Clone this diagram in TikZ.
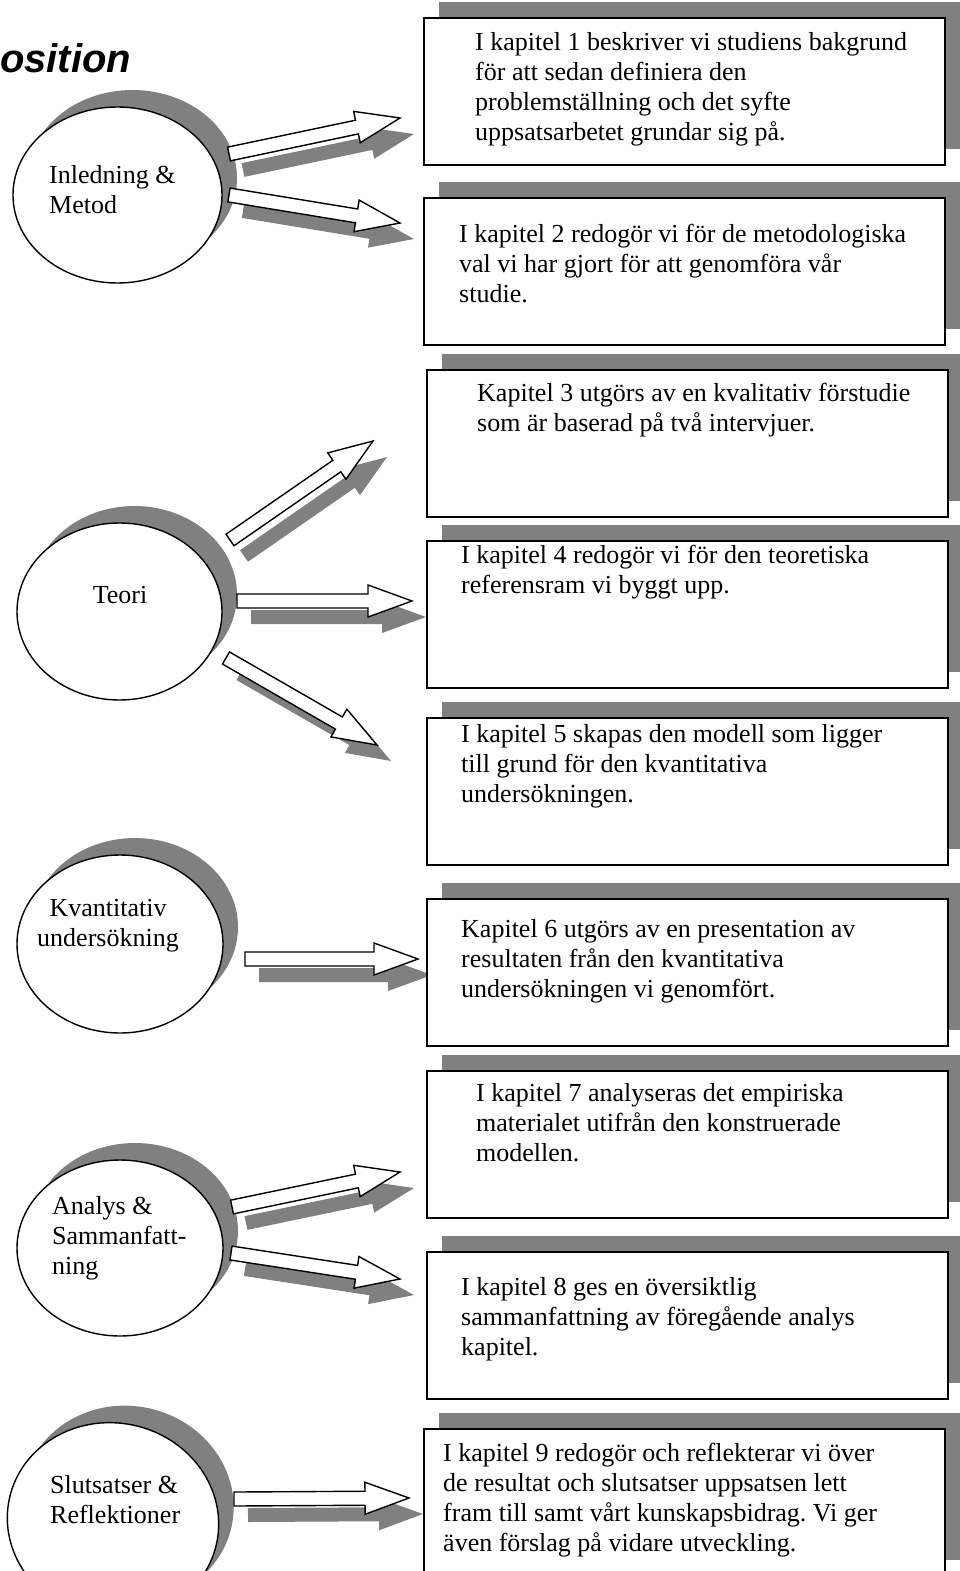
\documentclass[tikz,border=0pt]{standalone}
\usepackage{fontspec}
\setmainfont{Liberation Serif}
\newfontfamily\headfont{Liberation Sans}
\usetikzlibrary{calc,shapes.geometric,shadows}
\definecolor{shadowgray}{HTML}{808080}
\frenchspacing

% block arrow from a tail coordinate to a tip coordinate, with its shadow
\newcommand\blockarrow[2]{%
  \coordinate (#1-base) at ($(#2)!44pt!(#1)$);
  \path[arrowshade] ($(#1)!7pt!90:(#2)$) -- ($(#1-base)!7pt!90:(#2)$)
    -- ($(#1-base)!16pt!90:(#2)$) -- (#2) -- ($(#1-base)!16pt!-90:(#2)$)
    -- ($(#1-base)!7pt!-90:(#2)$) -- ($(#1)!7pt!-90:(#2)$) -- cycle;
  \path[arrowbody] ($(#1)!7pt!90:(#2)$) -- ($(#1-base)!7pt!90:(#2)$)
    -- ($(#1-base)!16pt!90:(#2)$) -- (#2) -- ($(#1-base)!16pt!-90:(#2)$)
    -- ($(#1-base)!7pt!-90:(#2)$) -- ($(#1)!7pt!-90:(#2)$) -- cycle;
}

\tikzset{
  bodyfont/.style={font=\fontsize{26}{30}\selectfont},
  chapbox/.style={rectangle, draw=black, line width=1.7pt, fill=white,
    inner sep=0pt, anchor=north west, minimum width=521pt, minimum height=147pt,
    drop shadow={shadow xshift=15pt, shadow yshift=16pt, fill=shadowgray, opacity=1}},
  part/.style={ellipse, draw=black, line width=1.4pt, fill=white, inner sep=0pt,
    drop shadow={shadow xshift=15pt, shadow yshift=17pt, fill=shadowgray, opacity=1}},
  chaptext/.style={bodyfont, anchor=north west, inner sep=0pt, align=left},
  parttext/.style={bodyfont, anchor=north west, inner sep=0pt, align=left},
  arrowshade/.style={fill=shadowgray, transform canvas={shift={(14pt,-16pt)}}},
  arrowbody/.style={fill=white, draw=black, line width=1.4pt, line join=miter},
}

\begin{document}
\begin{tikzpicture}[x=1pt, y=-1pt]
\useasboundingbox (0,0) rectangle (960,1571);
\clip (0,0) rectangle (960,1571);

% heading
\node[anchor=base west, inner sep=0pt,
  font=\headfont\bfseries\itshape\fontsize{40}{48}\selectfont] (title) at (0,72) {osition};

% parts of the thesis
\node[part, minimum width=209pt, minimum height=176pt] (e1) at (117.5,195) {};
\node[part, minimum width=205pt, minimum height=177pt] (e2) at (119.5,611.5) {};
\node[part, minimum width=206pt, minimum height=178pt] (e3) at (120,944) {};
\node[part, minimum width=206pt, minimum height=176pt] (e4) at (120,1248) {};
\node[part, minimum width=212pt, minimum height=196pt, rotate=-12] (e5) at (113,1521) {};

\node[parttext] (l1) at (49,162) {\strut Inledning \&\\Metod};
\node[bodyfont, anchor=base, inner sep=0pt] (l2) at (120,603) {Teori};
\node[bodyfont, anchor=north, inner sep=0pt, align=center] (l3) at (108,895) {\strut Kvantitativ\\undersökning};
\node[parttext] (l4) at (52,1193) {\strut Analys \&\\Sammanfatt-\\ning};
\node[parttext] (l5) at (50,1472) {\strut Slutsatser \&\\Reflektioner};

% arrow ends
\coordinate (a1) at (229,154);  \coordinate (h1) at (400,118);
\coordinate (a2) at (229,195);  \coordinate (h2) at (400,223);
\coordinate (a3) at (230,540);  \coordinate (h3) at (373,441);
\coordinate (a4) at (237,601);  \coordinate (h4) at (412,601);
\coordinate (a5) at (226,658);  \coordinate (h5) at (377,745);
\coordinate (a6) at (245,959);  \coordinate (h6) at (418,959);
\coordinate (a7) at (232,1207); \coordinate (h7) at (400,1172);
\coordinate (a8) at (231,1253); \coordinate (h8) at (400,1279);
\coordinate (a9) at (234,1499); \coordinate (h9) at (409,1498);

\blockarrow{a1}{h1}
\blockarrow{a2}{h2}
\blockarrow{a3}{h3}
\blockarrow{a4}{h4}
\blockarrow{a5}{h5}
\blockarrow{a6}{h6}
\blockarrow{a7}{h7}
\blockarrow{a8}{h8}
\blockarrow{a9}{h9}

% chapter boxes
\node[chapbox] (b1) at (423,17) {};
\node[chapbox] (b2) at (423,197) {};
\node[chapbox] (b3) at (426,369) {};
\node[chapbox] (b4) at (426,540) {};
\node[chapbox] (b5) at (426,717) {};
\node[chapbox] (b6) at (426,898) {};
\node[chapbox] (b7) at (426,1070) {};
\node[chapbox] (b8) at (426,1251) {};
\node[chapbox] (b9) at (423,1428) {};

\node[chaptext] (t1) at (475,29) {\strut I kapitel 1 beskriver vi studiens bakgrund\\för att sedan definiera den\\problemställning och det syfte\\uppsatsarbetet grundar sig på.};
\node[chaptext] (t2) at (459,221) {\strut I kapitel 2 redogör vi för de metodologiska\\val vi har gjort för att genomföra vår\\studie.};
\node[chaptext] (t3) at (477,380) {\strut Kapitel 3 utgörs av en kvalitativ förstudie\\som är baserad på två intervjuer.};
\node[chaptext] (t4) at (461,542) {\strut I kapitel 4 redogör vi för den teoretiska\\referensram vi byggt upp.};
\node[chaptext] (t5) at (461,721) {\strut I kapitel 5 skapas den modell som ligger\\till grund för den kvantitativa\\undersökningen.};
\node[chaptext] (t6) at (461,916) {\strut Kapitel 6 utgörs av en presentation av\\resultaten från den kvantitativa\\undersökningen vi genomfört.};
\node[chaptext] (t7) at (476,1080) {\strut I kapitel 7 analyseras det empiriska\\materialet utifrån den konstruerade\\modellen.};
\node[chaptext] (t8) at (461,1274) {\strut I kapitel 8 ges en översiktlig\\sammanfattning av föregående analys\\kapitel.};
\node[chaptext] (t9) at (443,1440) {\strut I kapitel 9 redogör och reflekterar vi över\\de resultat och slutsatser uppsatsen lett\\fram till samt vårt kunskapsbidrag. Vi ger\\även förslag på vidare utveckling.};
\end{tikzpicture}
\end{document}
